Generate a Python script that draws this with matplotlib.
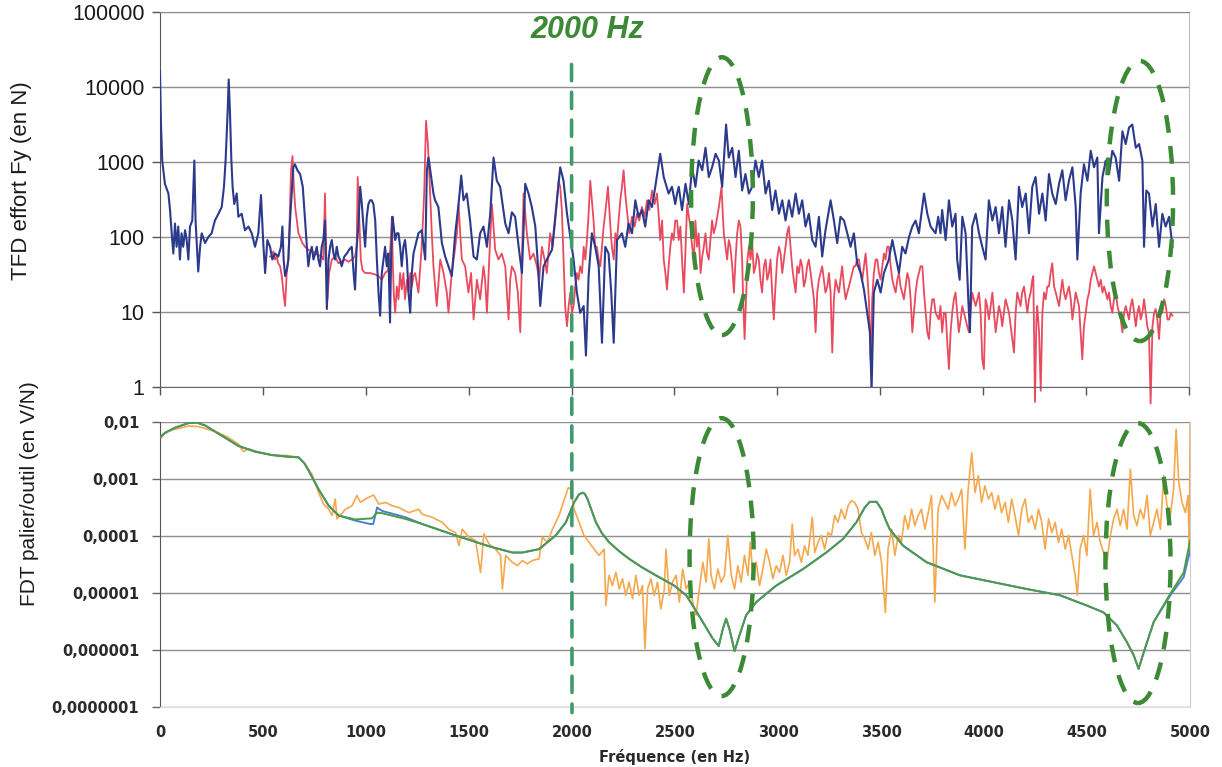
import matplotlib
matplotlib.use("Agg")
from matplotlib import pyplot as plt
from matplotlib.patches import Ellipse, ConnectionPatch
from matplotlib.transforms import blended_transform_factory
import numpy as np

# ---- data: (frequency in Hz, log10 of amplitude) ----
blue_top = [
    (0, 4.21), (5, 3.50), (11, 3.02), (24, 2.71), (41, 2.58), (49, 2.36), (57, 2.05), (65, 1.78),
    (73, 2.18), (81, 1.87), (89, 2.14), (97, 1.70), (105, 2.05), (113, 1.87), (122, 2.09), (130, 1.96),
    (138, 1.70), (146, 2.14), (157, 2.22), (167, 3.02), (173, 2.22), (186, 1.54), (195, 1.87), (203, 2.05),
    (219, 1.92), (235, 2.00), (251, 2.05), (267, 2.22), (284, 2.31), (300, 2.40), (311, 2.67), (319, 3.02),
    (329, 3.68), (334, 4.10), (340, 3.68), (347, 3.02), (353, 2.67), (361, 2.44), (373, 2.58), (381, 2.27),
    (397, 2.31), (413, 2.09), (430, 2.14), (446, 2.05), (462, 1.87), (478, 2.05), (491, 2.56), (502, 1.92),
    (511, 1.52), (522, 1.96), (535, 1.87), (546, 1.70), (559, 1.78), (575, 1.74), (588, 1.87), (595, 2.14),
    (601, 1.70), (608, 1.48), (616, 1.56), (624, 1.70), (632, 2.22), (640, 2.58), (648, 2.93), (656, 2.97),
    (668, 2.89), (681, 2.84), (694, 2.67), (705, 2.22), (714, 1.87), (721, 1.61), (729, 1.78), (738, 1.87),
    (746, 1.70), (754, 1.78), (762, 1.87), (770, 1.70), (778, 1.61), (786, 1.87), (794, 1.96), (802, 2.22),
    (811, 1.04), (819, 1.70), (827, 1.87), (835, 1.96), (843, 1.78), (851, 1.70), (859, 1.87), (867, 1.74),
    (875, 1.70), (883, 1.61), (896, 1.74), (908, 1.78), (919, 1.83), (932, 1.87), (942, 1.48), (948, 1.30),
    (956, 1.87), (964, 2.14), (973, 2.67), (981, 2.44), (989, 2.14), (997, 1.87), (1005, 2.27), (1013, 2.44),
    (1021, 2.49), (1029, 2.49), (1037, 2.44), (1046, 2.22), (1054, 1.70), (1062, 1.26), (1070, 0.95),
    (1078, 1.52), (1086, 1.70), (1094, 1.87), (1102, 1.61), (1110, 1.78), (1118, 0.86), (1123, 1.70),
    (1130, 2.27), (1136, 2.14), (1143, 1.96), (1151, 2.05), (1159, 2.05), (1167, 1.87), (1175, 1.61),
    (1183, 1.87), (1191, 1.96), (1200, 1.70), (1208, 1.26), (1216, 0.99), (1224, 1.52), (1232, 1.78),
    (1240, 1.87), (1256, 2.05), (1272, 2.09), (1289, 1.70), (1297, 2.89), (1305, 3.06), (1318, 2.80),
    (1329, 2.58), (1337, 2.49), (1353, 2.40), (1370, 1.92), (1386, 1.74), (1402, 1.61), (1418, 1.48),
    (1435, 2.05), (1451, 2.44), (1464, 2.82), (1475, 2.49), (1491, 2.58), (1507, 2.22), (1524, 1.74),
    (1540, 1.70), (1556, 2.05), (1572, 2.14), (1589, 1.87), (1605, 2.31), (1621, 3.06), (1637, 2.75),
    (1653, 2.67), (1678, 2.18), (1694, 2.05), (1710, 2.33), (1726, 2.27), (1743, 1.87), (1759, 1.52),
    (1775, 2.71), (1791, 2.58), (1807, 2.40), (1824, 2.14), (1837, 1.61), (1848, 1.08), (1864, 1.61),
    (1880, 1.70), (1905, 1.83), (1929, 2.49), (1945, 2.93), (1961, 2.75), (1978, 2.31), (1994, 2.00),
    (2010, 1.70), (2026, 1.26), (2042, 0.99), (2059, 1.08), (2070, 0.42), (2083, 1.48), (2099, 2.05),
    (2115, 1.87), (2132, 1.61), (2148, 0.59), (2164, 1.87), (2180, 1.78), (2193, 1.26), (2205, 0.59),
    (2221, 1.96), (2245, 2.05), (2261, 1.87), (2277, 2.18), (2294, 2.05), (2310, 2.49), (2326, 2.27),
    (2342, 2.36), (2358, 2.14), (2375, 2.49), (2391, 2.40), (2407, 2.67), (2431, 3.11), (2448, 2.80),
    (2472, 2.58), (2488, 2.67), (2504, 2.44), (2513, 2.58), (2521, 2.67), (2537, 2.36), (2554, 2.71),
    (2570, 2.44), (2586, 2.93), (2602, 2.67), (2618, 3.02), (2635, 2.89), (2651, 3.19), (2667, 2.80),
    (2683, 2.93), (2700, 3.11), (2716, 3.02), (2732, 2.67), (2751, 3.50), (2764, 3.06), (2781, 3.19),
    (2797, 2.80), (2813, 3.15), (2829, 2.62), (2845, 2.84), (2862, 2.58), (2878, 2.67), (2894, 3.02),
    (2910, 2.80), (2926, 3.02), (2943, 2.58), (2959, 2.75), (2975, 2.36), (2991, 2.62), (3008, 2.31),
    (3024, 2.49), (3040, 2.22), (3056, 2.49), (3072, 2.27), (3089, 2.58), (3105, 2.31), (3121, 2.49),
    (3137, 2.14), (3153, 2.31), (3170, 1.96), (3186, 1.87), (3202, 2.27), (3218, 1.74), (3234, 2.09),
    (3259, 2.49), (3275, 2.22), (3291, 1.92), (3307, 2.27), (3324, 2.22), (3340, 2.05), (3356, 1.87),
    (3372, 2.05), (3388, 1.65), (3405, 1.52), (3421, 1.30), (3437, 0.99), (3450, 0.73), (3458, -0.04),
    (3469, 1.26), (3486, 1.43), (3502, 1.26), (3518, 1.52), (3542, 1.70), (3559, 1.96), (3575, 1.74),
    (3591, 1.52), (3607, 1.87), (3623, 1.78), (3640, 2.00), (3656, 2.14), (3672, 2.22), (3688, 2.05),
    (3713, 2.58), (3729, 2.31), (3745, 2.14), (3769, 2.05), (3782, 2.27), (3793, 2.05), (3801, 2.36),
    (3818, 1.96), (3834, 2.49), (3850, 2.14), (3866, 2.31), (3874, 1.70), (3886, 1.43), (3899, 2.27),
    (3915, 2.05), (3928, 1.17), (3936, 0.73), (3947, 2.14), (3964, 2.31), (3980, 2.05), (3996, 1.87),
    (4012, 1.70), (4028, 2.49), (4045, 2.22), (4061, 2.40), (4077, 2.05), (4093, 2.40), (4109, 1.87),
    (4126, 2.49), (4142, 2.22), (4158, 1.70), (4174, 2.67), (4190, 2.40), (4207, 2.58), (4223, 2.05),
    (4239, 2.67), (4255, 2.80), (4272, 2.31), (4288, 2.58), (4304, 2.22), (4320, 2.84), (4336, 2.58),
    (4353, 2.44), (4369, 2.71), (4385, 2.89), (4401, 2.49), (4417, 2.75), (4434, 2.93), (4450, 2.40),
    (4458, 1.70), (4474, 2.58), (4490, 2.97), (4507, 2.75), (4523, 3.15), (4539, 2.93), (4555, 3.06),
    (4563, 2.05), (4580, 2.80), (4596, 3.02), (4612, 2.84), (4628, 3.15), (4644, 3.06), (4661, 2.75),
    (4677, 3.41), (4693, 3.24), (4709, 3.46), (4725, 3.50), (4742, 3.19), (4758, 3.24), (4774, 3.02),
    (4782, 1.87), (4793, 2.62), (4806, 2.58), (4823, 2.14), (4839, 2.44), (4855, 1.87), (4871, 2.31),
    (4887, 2.14), (4904, 2.27), (4920, 1.87),
]

red_top = [
    (535, 1.74), (543, 1.74), (551, 1.81), (559, 1.70), (567, 1.74), (575, 1.65), (584, 1.61), (592, 1.48),
    (600, 1.26), (608, 1.08), (616, 1.52), (624, 1.70), (630, 2.22), (637, 2.89), (644, 3.08), (650, 2.71),
    (657, 2.40), (665, 2.22), (673, 2.05), (681, 2.00), (692, 1.92), (705, 1.87), (721, 1.83), (738, 1.81),
    (754, 1.78), (770, 1.76), (786, 1.74), (794, 1.70), (802, 2.58), (807, 1.87), (814, 1.17), (822, 1.52),
    (835, 1.70), (851, 1.74), (867, 1.65), (883, 1.67), (900, 1.70), (916, 1.67), (932, 1.70), (948, 1.74),
    (956, 1.87), (961, 2.80), (968, 2.27), (976, 1.70), (984, 1.56), (997, 1.52), (1021, 1.52), (1046, 1.50),
    (1062, 1.48), (1078, 1.43), (1094, 1.52), (1110, 1.56), (1120, 1.87), (1127, 2.27), (1131, 1.70),
    (1136, 1.26), (1143, 0.99), (1151, 1.34), (1159, 1.17), (1167, 1.52), (1175, 1.30), (1183, 1.52),
    (1191, 1.17), (1200, 1.43), (1208, 1.26), (1216, 1.52), (1224, 1.34), (1232, 1.48), (1240, 1.52),
    (1256, 1.26), (1272, 1.87), (1284, 2.58), (1293, 3.55), (1302, 3.24), (1313, 2.58), (1321, 2.05),
    (1329, 1.61), (1345, 1.08), (1362, 1.70), (1378, 1.52), (1394, 1.26), (1402, 0.99), (1418, 1.52),
    (1431, 1.78), (1443, 2.05), (1451, 2.44), (1459, 2.05), (1467, 1.70), (1483, 1.61), (1499, 1.26),
    (1512, 1.52), (1524, 0.90), (1540, 1.43), (1556, 1.17), (1572, 1.61), (1580, 1.43), (1589, 0.99),
    (1600, 1.70), (1613, 2.44), (1621, 2.14), (1629, 1.83), (1645, 1.70), (1661, 1.78), (1678, 1.61),
    (1686, 1.26), (1694, 0.90), (1702, 1.43), (1710, 1.61), (1726, 1.52), (1739, 1.26), (1751, 0.73),
    (1759, 1.70), (1767, 2.58), (1775, 2.31), (1783, 2.05), (1799, 1.70), (1815, 1.78), (1832, 1.61),
    (1843, 1.43), (1856, 1.87), (1869, 1.70), (1880, 1.52), (1896, 2.05), (1908, 1.87), (1921, 2.22),
    (1929, 2.49), (1937, 2.75), (1945, 2.67), (1953, 2.36), (1961, 1.70), (1969, 1.08), (1978, 0.81),
    (1986, 1.08), (1994, 1.26), (2002, 0.99), (2010, 1.08), (2018, 1.34), (2026, 1.52), (2034, 1.43),
    (2042, 1.61), (2051, 1.52), (2059, 1.87), (2067, 1.70), (2075, 1.96), (2083, 2.31), (2091, 2.75),
    (2099, 2.49), (2107, 2.22), (2115, 1.87), (2123, 1.87), (2132, 1.70), (2140, 1.61), (2148, 1.87),
    (2156, 2.14), (2167, 2.40), (2177, 2.67), (2187, 2.22), (2196, 1.87), (2205, 1.70), (2213, 2.05),
    (2221, 1.96), (2229, 2.22), (2237, 2.49), (2245, 2.67), (2253, 2.89), (2261, 2.58), (2269, 2.36),
    (2281, 2.05), (2294, 2.27), (2307, 2.14), (2318, 2.31), (2329, 2.22), (2342, 2.40), (2355, 2.27),
    (2367, 2.49), (2378, 2.36), (2391, 2.62), (2404, 2.44), (2415, 2.58), (2423, 2.31), (2431, 1.96),
    (2440, 2.22), (2448, 1.70), (2456, 1.52), (2464, 1.30), (2472, 1.61), (2480, 1.87), (2488, 2.05),
    (2496, 1.96), (2504, 2.22), (2513, 2.22), (2521, 1.96), (2529, 2.14), (2537, 1.70), (2546, 1.26),
    (2554, 1.87), (2562, 2.44), (2570, 2.27), (2578, 2.14), (2586, 1.87), (2594, 1.70), (2602, 2.22),
    (2610, 1.87), (2618, 2.05), (2627, 1.52), (2635, 1.74), (2643, 1.87), (2651, 2.05), (2659, 1.78),
    (2667, 1.70), (2675, 1.96), (2683, 2.22), (2691, 2.05), (2700, 2.14), (2708, 2.27), (2716, 2.40),
    (2729, 2.67), (2735, 2.31), (2740, 2.05), (2748, 1.87), (2756, 1.70), (2764, 1.96), (2772, 1.87),
    (2781, 1.61), (2789, 1.26), (2797, 1.70), (2805, 2.05), (2813, 2.22), (2821, 2.14), (2829, 1.70),
    (2834, 1.17), (2841, 0.64), (2849, 1.26), (2855, 1.70), (2862, 1.87), (2870, 1.70), (2878, 1.92),
    (2886, 1.52), (2894, 1.61), (2902, 1.78), (2910, 1.70), (2918, 1.43), (2926, 1.26), (2935, 1.61),
    (2943, 1.70), (2951, 1.43), (2959, 1.52), (2967, 1.70), (2975, 1.26), (2983, 0.90), (2991, 1.34),
    (2999, 1.70), (3008, 1.87), (3016, 1.78), (3024, 1.52), (3032, 1.70), (3040, 1.87), (3048, 2.05),
    (3056, 2.14), (3064, 1.87), (3072, 1.61), (3080, 1.43), (3089, 1.26), (3097, 1.61), (3105, 1.52),
    (3113, 1.70), (3121, 1.61), (3129, 1.34), (3137, 1.43), (3145, 1.61), (3153, 1.70), (3162, 1.52),
    (3170, 1.34), (3178, 1.17), (3186, 0.73), (3194, 1.26), (3202, 1.43), (3210, 1.52), (3218, 1.61),
    (3226, 1.43), (3234, 1.26), (3243, 1.34), (3251, 1.52), (3259, 1.26), (3267, 0.46), (3275, 1.17),
    (3283, 1.43), (3291, 1.34), (3299, 1.26), (3307, 1.43), (3315, 1.61), (3324, 1.34), (3332, 1.17),
    (3340, 1.26), (3348, 1.34), (3356, 1.43), (3364, 1.52), (3372, 1.61), (3380, 1.61), (3388, 1.70),
    (3397, 1.70), (3405, 1.52), (3413, 1.43), (3421, 1.61), (3429, 1.78), (3437, 1.52), (3445, 1.17),
    (3453, 0.37), (3461, 1.17), (3469, 1.52), (3478, 1.70), (3486, 1.70), (3494, 1.52), (3502, 1.43),
    (3510, 1.61), (3518, 1.78), (3526, 1.70), (3534, 1.87), (3542, 1.87), (3551, 1.61), (3559, 1.43),
    (3567, 1.34), (3575, 1.26), (3583, 1.43), (3591, 1.52), (3599, 1.34), (3607, 1.26), (3615, 1.17),
    (3623, 1.34), (3632, 1.52), (3640, 1.43), (3648, 1.17), (3656, 0.73), (3664, 0.99), (3672, 1.26),
    (3680, 1.43), (3688, 1.52), (3696, 1.61), (3705, 1.61), (3713, 1.26), (3721, 0.99), (3729, 0.73),
    (3737, 0.64), (3745, 0.99), (3753, 1.17), (3761, 1.17), (3769, 0.99), (3785, 0.90), (3793, 1.08),
    (3801, 0.73), (3810, 0.99), (3818, 0.99), (3826, 0.59), (3834, 0.24), (3842, 0.73), (3850, 0.99),
    (3858, 1.17), (3866, 1.26), (3874, 0.99), (3882, 0.73), (3891, 0.90), (3899, 1.08), (3907, 0.99),
    (3915, 0.90), (3923, 0.81), (3931, 0.73), (3939, 0.99), (3947, 1.26), (3955, 1.17), (3964, 1.08),
    (3972, 1.17), (3980, 1.26), (3988, 0.99), (3996, 0.37), (4004, 0.24), (4012, 1.17), (4020, 1.08),
    (4028, 0.90), (4037, 1.08), (4045, 1.26), (4053, 0.99), (4061, 0.73), (4069, 0.90), (4077, 1.08),
    (4085, 0.99), (4093, 0.81), (4101, 0.99), (4109, 1.17), (4118, 1.08), (4126, 0.99), (4134, 0.81),
    (4142, 0.64), (4150, 0.46), (4158, 0.99), (4166, 1.26), (4174, 1.17), (4182, 1.08), (4190, 1.26),
    (4199, 1.34), (4207, 1.17), (4215, 0.99), (4223, 1.17), (4231, 1.26), (4239, 1.43), (4244, 1.48),
    (4252, -0.20), (4259, 0.90), (4263, 1.08), (4272, 0.73), (4280, -0.05), (4288, 0.99), (4296, 1.26),
    (4304, 1.17), (4312, 1.34), (4320, 1.34), (4328, 1.52), (4336, 1.65), (4345, 1.34), (4353, 1.26),
    (4361, 1.17), (4369, 1.08), (4377, 1.26), (4385, 1.43), (4393, 1.26), (4401, 1.17), (4409, 1.26),
    (4417, 1.34), (4426, 1.17), (4434, 0.90), (4442, 1.08), (4450, 1.26), (4458, 1.17), (4466, 1.08),
    (4474, 0.73), (4482, 0.37), (4490, 0.81), (4499, 0.99), (4507, 1.17), (4515, 1.26), (4523, 1.43),
    (4531, 1.52), (4539, 1.61), (4547, 1.52), (4555, 1.43), (4563, 1.34), (4572, 1.43), (4580, 1.26),
    (4588, 1.34), (4596, 1.26), (4604, 1.17), (4612, 1.26), (4620, 1.08), (4628, 0.99), (4636, 1.17),
    (4644, 1.26), (4653, 1.08), (4661, 0.99), (4669, 0.90), (4677, 0.73), (4685, 0.99), (4693, 1.08),
    (4701, 0.99), (4709, 0.90), (4717, 1.08), (4725, 1.17), (4734, 0.99), (4742, 0.81), (4750, 0.99),
    (4758, 1.08), (4766, 0.90), (4774, 0.99), (4782, 1.17), (4790, 0.99), (4798, 0.81), (4806, 0.73),
    (4814, -0.22), (4823, 0.81), (4831, 0.99), (4839, 1.04), (4847, 0.90), (4855, 0.64), (4863, 0.99),
    (4871, 0.99), (4880, 1.17), (4888, 1.08), (4896, 0.90), (4904, 0.90), (4912, 0.99), (4920, 0.95),
]

green_fdt = [
    (0, -2.27), (24, -2.19), (73, -2.10), (138, -2.02), (178, -2.01), (219, -2.06), (300, -2.24),
    (381, -2.42), (462, -2.52), (543, -2.58), (624, -2.61), (673, -2.62), (700, -2.72), (721, -2.85),
    (770, -3.18), (819, -3.47), (867, -3.64), (948, -3.71), (1029, -3.69), (1054, -3.59), (1078, -3.60),
    (1191, -3.70), (1273, -3.79), (1435, -3.99), (1597, -4.18), (1710, -4.29), (1759, -4.29),
    (1840, -4.23), (1921, -3.99), (1970, -3.76), (2010, -3.41), (2034, -3.27), (2051, -3.24),
    (2062, -3.26), (2075, -3.35), (2095, -3.55), (2116, -3.76), (2145, -3.95), (2180, -4.11),
    (2230, -4.27), (2277, -4.40), (2340, -4.55), (2407, -4.69), (2496, -4.87), (2554, -5.04),
    (2586, -5.22), (2635, -5.51), (2683, -5.80), (2712, -5.93), (2732, -5.63), (2748, -5.45),
    (2764, -5.63), (2789, -6.02), (2813, -5.74), (2845, -5.39), (2894, -5.16), (2991, -4.87),
    (3121, -4.58), (3234, -4.29), (3316, -4.05), (3380, -3.76), (3421, -3.50), (3445, -3.40),
    (3478, -3.40), (3502, -3.53), (3520, -3.70), (3542, -3.88), (3607, -4.17), (3721, -4.46),
    (3883, -4.69), (4045, -4.81), (4207, -4.93), (4369, -5.04), (4499, -5.22), (4580, -5.34),
    (4645, -5.57), (4693, -5.86), (4726, -6.09), (4750, -6.33), (4775, -6.04), (4823, -5.51),
    (4904, -5.01), (4969, -4.64), (5000, -4.08),
]

blue_fdt = [
    (0, -2.27), (24, -2.19), (73, -2.10), (138, -2.02), (178, -2.01), (219, -2.06), (300, -2.24),
    (381, -2.42), (462, -2.52), (543, -2.58), (624, -2.61), (673, -2.62), (700, -2.72), (721, -2.85),
    (770, -3.18), (819, -3.47), (867, -3.64), (948, -3.73), (1021, -3.79), (1035, -3.79), (1054, -3.50),
    (1078, -3.56), (1191, -3.67), (1273, -3.79), (1435, -3.99), (1597, -4.18), (1710, -4.29),
    (1759, -4.29), (1840, -4.23), (1921, -3.99), (1970, -3.76), (2010, -3.41), (2034, -3.27),
    (2051, -3.24), (2062, -3.26), (2075, -3.35), (2095, -3.55), (2116, -3.76), (2145, -3.95),
    (2180, -4.11), (2230, -4.27), (2277, -4.40), (2340, -4.55), (2407, -4.69), (2496, -4.87),
    (2554, -5.04), (2586, -5.22), (2635, -5.51), (2683, -5.80), (2712, -5.93), (2732, -5.63),
    (2748, -5.45), (2764, -5.63), (2789, -6.02), (2813, -5.74), (2845, -5.39), (2894, -5.16),
    (2991, -4.87), (3121, -4.58), (3234, -4.29), (3316, -4.05), (3380, -3.76), (3421, -3.50),
    (3445, -3.40), (3478, -3.40), (3502, -3.53), (3520, -3.70), (3542, -3.88), (3607, -4.17),
    (3721, -4.46), (3883, -4.69), (4045, -4.81), (4207, -4.93), (4369, -5.04), (4499, -5.22),
    (4580, -5.34), (4645, -5.57), (4693, -5.86), (4726, -6.09), (4750, -6.33), (4775, -6.04),
    (4823, -5.51), (4904, -5.04), (4969, -4.72), (5000, -4.25),
]

orange_fdt = [
    (0, -2.30), (24, -2.20), (57, -2.14), (105, -2.10), (138, -2.07), (186, -2.08), (235, -2.13),
    (284, -2.19), (332, -2.27), (381, -2.39), (405, -2.52), (430, -2.47), (462, -2.51), (543, -2.58),
    (624, -2.59), (673, -2.62), (705, -2.74), (738, -2.92), (770, -3.24), (794, -3.44), (819, -3.53),
    (835, -3.64), (851, -3.35), (859, -3.70), (875, -3.64), (900, -3.53), (932, -3.47), (956, -3.29),
    (973, -3.41), (997, -3.35), (1037, -3.28), (1062, -3.44), (1094, -3.41), (1127, -3.47),
    (1159, -3.50), (1208, -3.59), (1256, -3.53), (1273, -3.62), (1321, -3.67), (1370, -3.76),
    (1402, -3.88), (1435, -3.94), (1451, -4.17), (1467, -3.88), (1499, -4.02), (1532, -4.08),
    (1556, -4.64), (1572, -3.96), (1597, -4.14), (1629, -4.23), (1653, -4.34), (1662, -4.93),
    (1678, -4.34), (1710, -4.46), (1735, -4.52), (1759, -4.43), (1783, -4.49), (1807, -4.43),
    (1840, -4.40), (1856, -4.02), (1880, -4.11), (1905, -3.88), (1937, -3.64), (1961, -3.38),
    (1982, -3.15), (1994, -3.18), (2010, -3.53), (2034, -3.76), (2058, -3.99), (2083, -4.11),
    (2107, -4.23), (2131, -4.34), (2156, -4.23), (2164, -5.22), (2180, -4.69), (2196, -4.87),
    (2213, -4.64), (2229, -4.93), (2245, -4.75), (2261, -5.04), (2277, -4.81), (2294, -5.10),
    (2310, -4.69), (2326, -5.04), (2342, -4.87), (2354, -5.98), (2367, -4.93), (2383, -4.75),
    (2399, -5.04), (2415, -4.81), (2431, -5.28), (2448, -4.93), (2456, -4.23), (2472, -5.04),
    (2488, -4.81), (2505, -4.69), (2521, -5.16), (2537, -4.58), (2554, -4.93), (2570, -4.81),
    (2586, -5.16), (2602, -5.39), (2618, -4.93), (2635, -4.46), (2651, -4.81), (2664, -4.05),
    (2675, -4.69), (2691, -4.93), (2708, -4.58), (2724, -4.81), (2740, -4.69), (2756, -3.99),
    (2773, -4.69), (2789, -4.93), (2805, -4.52), (2821, -4.81), (2837, -4.34), (2854, -4.69),
    (2865, -4.11), (2878, -4.69), (2894, -4.46), (2910, -4.87), (2926, -4.58), (2943, -4.23),
    (2959, -4.46), (2975, -4.75), (2991, -4.52), (3007, -4.64), (3024, -4.34), (3040, -4.69),
    (3056, -4.46), (3069, -3.79), (3080, -4.34), (3097, -4.23), (3113, -4.46), (3129, -4.17),
    (3145, -4.34), (3166, -3.67), (3178, -4.29), (3194, -4.11), (3210, -3.99), (3226, -4.23),
    (3243, -3.94), (3259, -3.99), (3275, -3.64), (3291, -3.76), (3307, -3.53), (3324, -3.70),
    (3340, -3.47), (3356, -3.38), (3372, -3.41), (3388, -3.53), (3405, -3.94), (3421, -4.05),
    (3437, -4.23), (3453, -3.94), (3470, -4.34), (3486, -4.11), (3502, -4.46), (3521, -5.34),
    (3534, -4.23), (3551, -3.88), (3567, -4.34), (3583, -3.99), (3599, -4.11), (3615, -3.64),
    (3632, -3.88), (3648, -3.53), (3664, -3.82), (3680, -3.64), (3696, -3.53), (3713, -3.88),
    (3729, -3.59), (3745, -3.29), (3761, -5.16), (3777, -3.53), (3794, -3.29), (3810, -3.41),
    (3826, -3.53), (3842, -3.24), (3859, -3.47), (3875, -3.35), (3891, -3.18), (3907, -4.23),
    (3923, -3.18), (3940, -2.54), (3956, -3.24), (3972, -2.94), (3988, -3.41), (4004, -3.12),
    (4021, -3.35), (4037, -3.24), (4053, -3.53), (4069, -3.29), (4085, -3.59), (4102, -3.41),
    (4118, -3.76), (4134, -3.35), (4150, -3.64), (4167, -3.99), (4183, -3.53), (4199, -3.35),
    (4215, -3.76), (4232, -3.64), (4248, -3.88), (4264, -3.53), (4280, -3.76), (4296, -4.23),
    (4313, -3.70), (4329, -3.94), (4345, -3.76), (4361, -4.11), (4377, -3.88), (4394, -4.23),
    (4410, -3.99), (4426, -4.34), (4442, -4.69), (4453, -5.04), (4466, -4.23), (4483, -3.99),
    (4499, -4.34), (4515, -3.18), (4531, -3.99), (4548, -3.76), (4564, -4.11), (4580, -4.29),
    (4596, -4.46), (4613, -3.99), (4629, -3.70), (4645, -3.53), (4661, -3.82), (4677, -3.53),
    (4694, -3.88), (4710, -2.83), (4726, -3.64), (4742, -3.82), (4758, -3.53), (4775, -3.70),
    (4791, -3.29), (4807, -3.99), (4823, -3.76), (4839, -3.53), (4856, -3.88), (4872, -2.94),
    (4888, -3.47), (4904, -3.64), (4920, -3.18), (4932, -2.13), (4945, -3.06), (4961, -3.41),
    (4977, -3.59), (4990, -3.29), (4996, -4.23), (5000, -2.05),
]

top_ticks = [1, 10, 100, 1000, 10000, 100000]
top_tick_labels = ['1', '10', '100', '1000', '10000', '100000']
fdt_ticks = [1e-7, 1e-6, 1e-5, 1e-4, 1e-3, 1e-2]
fdt_tick_labels = ['0,0000001', '0,000001', '0,00001', '0,0001', '0,001', '0,01']
freq_ticks = list(range(0, 5001, 500))

# annotation ellipses: centre (Hz), centre (axes fraction), width (Hz), height (axes fraction)
top_ellipses = [(2731, 0.509, 300, 0.741), (4762, 0.496, 322, 0.747)]
fdt_ellipses = [(2726, 0.526, 311, 0.975), (4747, 0.505, 316, 0.982)]

NAVY = '#2c3a8c'
RED = '#e94a5e'
ORANGE = '#f6a84c'
GREEN = '#4f9a4a'
BLUE = '#4a80d2'
MARK = '#3c8a35'
LINE2000 = '#3e9c6c'
GRID = '#8e8e8e'


def unpack(pairs):
    arr = np.array(pairs, dtype=float)
    return arr[:, 0], 10 ** arr[:, 1]


fig = plt.figure(figsize=(12.22, 7.67), dpi=100)
ax1 = fig.add_axes([0.1309, 0.4954, 0.842, 0.4889])
ax2 = fig.add_axes([0.1309, 0.0782, 0.843, 0.3716])

# ---- top: force spectrum ----
f, v = unpack(blue_top)
ax1.plot(f, v, color=NAVY, lw=1.5, zorder=3)
f, v = unpack(red_top)
ax1.plot(f, v, color=RED, lw=1.3, zorder=2, clip_on=False)

ax1.set_yscale('log')
ax1.set_ylim(1, 1e5)
ax1.set_xlim(0, 5000)
ax1.set_yticks(top_ticks)
ax1.set_yticklabels(top_tick_labels, family='Liberation Sans', fontsize=15.5, color='#1a1a1a')
ax1.yaxis.set_minor_locator(matplotlib.ticker.NullLocator())
ax1.set_xticks(freq_ticks)
ax1.set_xticklabels([])
ax1.tick_params(axis='y', length=6, width=1, color='#555', pad=5)
ax1.tick_params(axis='x', length=6, width=1, color='#555', direction='out')
ax1.grid(axis='y', color=GRID, lw=1)
ax1.set_axisbelow(True)
ax1.spines['left'].set_color('#555')
ax1.spines['bottom'].set_color('#666')
ax1.spines['top'].set_color(GRID)
ax1.spines['right'].set_color('#bbb')

# ---- bottom: transfer function ----
f, v = unpack(orange_fdt)
ax2.plot(f, v, color=ORANGE, lw=1.2, zorder=2)
f, v = unpack(blue_fdt)
ax2.plot(f, v, color=BLUE, lw=1.4, zorder=3)
f, v = unpack(green_fdt)
ax2.plot(f, v, color=GREEN, lw=1.4, zorder=4)

ax2.set_yscale('log')
ax2.set_ylim(1e-7, 1e-2)
ax2.set_xlim(0, 5000)
ax2.set_yticks(fdt_ticks)
ax2.set_yticklabels(fdt_tick_labels, family='DejaVu Sans', fontweight='bold',
                    fontsize=10.5, color='#2a2a2a')
ax2.yaxis.set_minor_locator(matplotlib.ticker.NullLocator())
ax2.set_xticks(freq_ticks)
ax2.set_xticklabels([str(t) for t in freq_ticks], family='DejaVu Sans',
                    fontweight='bold', fontsize=10.5, color='#2a2a2a')
ax2.tick_params(axis='y', length=6, width=1, color='#666', pad=9)
ax2.tick_params(axis='x', length=0, pad=13)
ax2.grid(axis='y', color=GRID, lw=1)
ax2.set_axisbelow(True)
ax2.spines['left'].set_color('#555')
ax2.spines['bottom'].set_color('#dddddd')
ax2.spines['top'].set_visible(False)
ax2.spines['right'].set_color('#cccccc')

# ---- labels ----
fig.text(0.018, 1 - 181 / 767, 'TFD effort Fy (en N)', rotation=90, ha='center', va='center',
         family='Liberation Sans', fontsize=16, color='#1a1a1a')
fig.text(0.024, 1 - 494 / 767, 'FDT palier/outil (en V/N)', rotation=90, ha='center', va='center',
         family='Liberation Sans', fontsize=15, color='#1a1a1a')
fig.text(675 / 1222, 1 - 757 / 767, 'Fréquence (en Hz)', ha='center', va='center',
         family='DejaVu Sans', fontweight='bold', fontsize=10.5, color='#2a2a2a')
ax1.text(2075, 0.952, '2000 Hz', transform=blended_transform_factory(ax1.transData, ax1.transAxes),
         ha='center', va='center', family='Liberation Sans', fontweight='bold', style='italic',
         fontsize=22, color=MARK)

# ---- 2000 Hz marker spanning both panels ----
con = ConnectionPatch(xyA=(2000, 2e4), coordsA=ax1.transData,
                      xyB=(2000, 8e-8), coordsB=ax2.transData,
                      color=LINE2000, lw=2.6, linestyle=(0, (4.5, 3.2)), zorder=6)
fig.add_artist(con)

# ---- dashed ellipses ----
for ax, ells in ((ax1, top_ellipses), (ax2, fdt_ellipses)):
    tr = blended_transform_factory(ax.transData, ax.transAxes)
    for cx, cy, w, h in ells:
        ax.add_patch(Ellipse((cx, cy), w, h, transform=tr, fill=False, edgecolor=MARK,
                             lw=3.2, linestyle=(0, (4.0, 3.0)), clip_on=False, zorder=7))

fig.savefig('out.png', dpi=100, facecolor='white')
